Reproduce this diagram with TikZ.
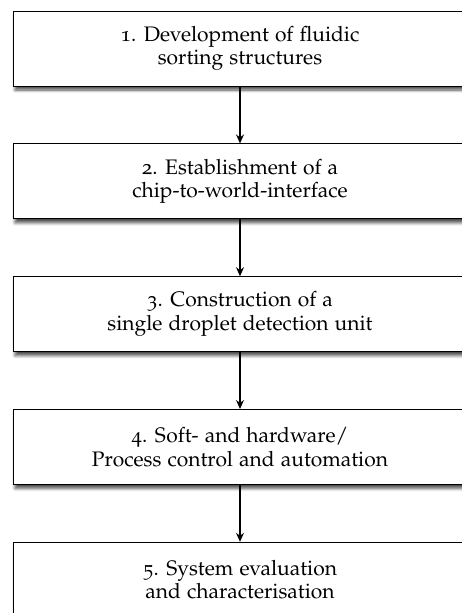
\documentclass[tikz,border=0pt]{standalone}
\usepackage[T1]{fontenc}
\usepackage[osf]{mathpazo}
\usetikzlibrary{positioning,shadows.blur,arrows.meta}

\tikzset{
	workpkg/.style={draw, line width=0.8pt, fill=white, minimum width=454pt, minimum height=75pt, align=center, font=\fontsize{21}{23.5}\selectfont, blur shadow={shadow xshift=2pt, shadow yshift=-4pt, shadow blur steps=8, shadow blur radius=3pt, shadow opacity=70}},
	flow/.style={-{Stealth[length=9pt, width=8pt, inset=3pt]}, line width=1.1pt}
}

\begin{document}
\begin{tikzpicture}
		\useasboundingbox (0,0) rectangle (461pt,-613pt);
		\node[workpkg] (wp1) at (240pt,-48.5pt) {1. Development of fluidic\\sorting structures};
		\node[workpkg, below=57pt of wp1] (wp2) {2. Establishment of a\\chip-to-world-interface};
		\node[workpkg, below=57pt of wp2] (wp3) {3. Construction of a\\single droplet detection unit};
		\node[workpkg, below=57pt of wp3] (wp4) {4. Soft- and hardware/\\Process control and automation};
		\node[workpkg, below=57pt of wp4] (wp5) {5. System evaluation\\and characterisation};
		
		\foreach \a/\b in {wp1/wp2, wp2/wp3, wp3/wp4, wp4/wp5}{
			\draw[flow] (\a) -- (\b);
		}
		\end{tikzpicture}
\end{document}
